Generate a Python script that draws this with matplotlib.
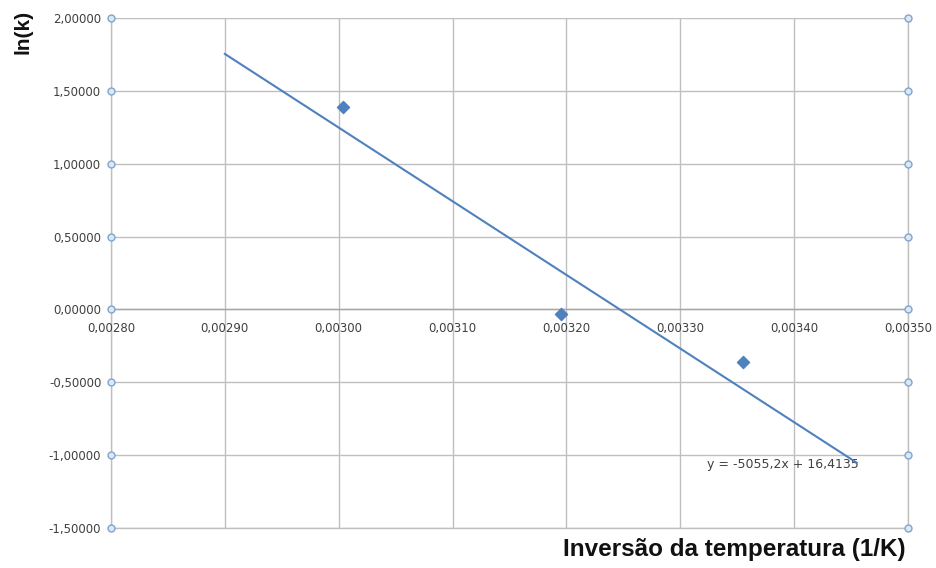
import numpy as np
import matplotlib.pyplot as plt
from matplotlib.transforms import offset_copy

plt.rcParams["font.family"] = ["Liberation Sans", "DejaVu Sans"]

# measured points: inverse temperature vs ln(k)
inv_temp = [0.0030038, 0.0031952, 0.0033550]
ln_k = [1.39, -0.03, -0.36]

# linear trendline from the fit equation
slope = -5055.2
intercept = 16.4135
trend_x = [0.00290, 0.003455]
eq_label = "y = -5055,2x + 16,4135"

x_ticks = [0.0028, 0.0029, 0.0030, 0.0031, 0.0032, 0.0033, 0.0034, 0.0035]
y_ticks = [-1.5, -1.0, -0.5, 0.0, 0.5, 1.0, 1.5, 2.0]

grid_col = "#bfbfbf"
blue = "#4f81bd"
tick_font = dict(family="DejaVu Sans", size=8.5)

fig = plt.figure(figsize=(9.36, 5.68), dpi=100)
ax = fig.add_axes([0.1186, 0.0704, 0.8515, 0.8979])
ax.set_xlim(x_ticks[0], x_ticks[-1])
ax.set_ylim(y_ticks[0], y_ticks[-1])

ax.spines["top"].set_visible(False)
for s in ["left", "right", "bottom"]:
    ax.spines[s].set_color(grid_col)
    ax.spines[s].set_linewidth(1.0)

ax.set_xticks(x_ticks)
ax.set_yticks(y_ticks)
ax.grid(True, color=grid_col, linewidth=1.0)
ax.set_axisbelow(True)
ax.tick_params(length=0, colors="#404040", pad=7)
ax.set_xticklabels([])
ax.set_yticklabels([f"{v:.5f}".replace(".", ",") for v in y_ticks],
                   fontdict=tick_font)

# horizontal axis line crossing at y = 0 with its labels underneath
ax.axhline(0, color="#a6a6a6", linewidth=1.0, zorder=1)
lab_tr = offset_copy(ax.transData, fig=fig, x=0, y=-9, units="points")
for xv in x_ticks:
    ax.text(xv, 0, f"{xv:.5f}".replace(".", ","), transform=lab_tr,
            ha="center", va="top", color="#404040", fontdict=tick_font)

# small circle markers at both ends of each horizontal gridline
for yv in y_ticks:
    ax.plot([x_ticks[0], x_ticks[-1]], [yv, yv], linestyle="none", marker="o",
            ms=5, mfc="#dbe8f5", mec="#7ea6cf", mew=1.0, clip_on=False, zorder=3)

tx = np.array(trend_x)
ax.plot(tx, slope * tx + intercept, color=blue, linewidth=1.5, zorder=4)
ax.scatter(inv_temp, ln_k, marker="D", s=38, color=blue, zorder=5)

ax.text(0.003457, slope * 0.003455 + intercept - 0.01, eq_label, ha="right",
        va="center", color="#404040", fontdict=dict(family="DejaVu Sans", size=9))

fig.text(0.025, 0.982, "ln(k)", rotation=90, ha="center", va="top",
         fontsize=15, fontweight="bold", color="#111111")
fig.text(0.968, 0.032, "Inversão da temperatura (1/K)", ha="right",
         va="center", fontsize=17.5, fontweight="bold", color="#111111")

fig.savefig("out.png", dpi=100)
